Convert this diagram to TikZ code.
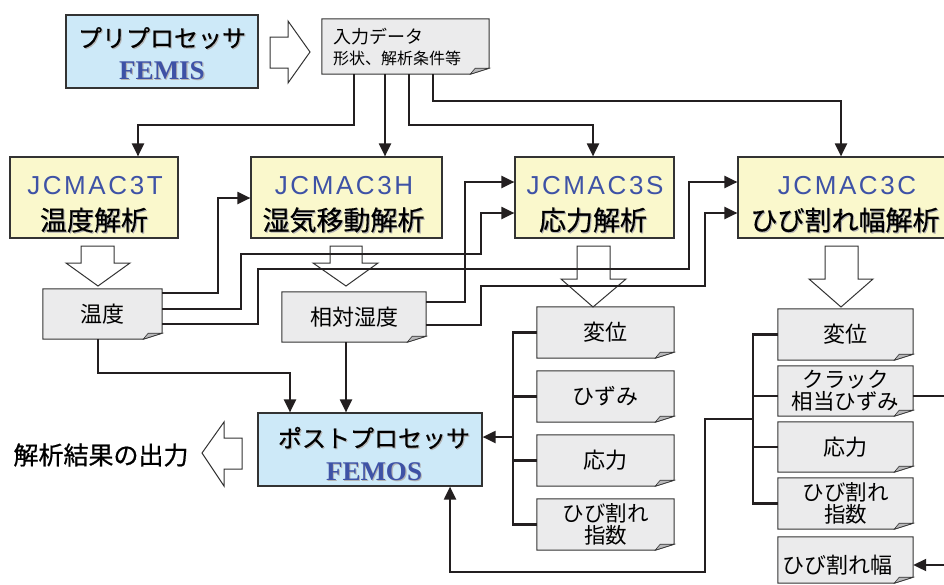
\documentclass[tikz,border=0pt]{standalone}
\usepackage{fontspec}
\newfontfamily\jp{Noto Sans CJK JP}
\newfontfamily\jpt[FakeBold=0.45]{Noto Sans CJK JP}
\newfontfamily\jpo[FakeBold=0.7]{Noto Sans CJK JP}
\newfontfamily\jcm[LetterSpace=10]{Liberation Sans}
\newfontfamily\tms{Liberation Serif}
\usetikzlibrary{arrows.meta}
\definecolor{bluefill}{HTML}{CDE9F8}
\definecolor{yelfill}{HTML}{FAF8CC}
\definecolor{notefill}{HTML}{EBEBEC}
\definecolor{flapfill}{HTML}{B8B8BA}
\definecolor{edge}{HTML}{333333}
\definecolor{ink}{HTML}{231F20}
\definecolor{tblue}{HTML}{3E52A6}
\definecolor{shadowgray}{HTML}{B4B4B4}
\pgfdeclarelayer{bg}
\pgfsetlayers{bg,main}
\newcommand\fsz[1]{\fontsize{#1pt}{#1pt}\selectfont}
\newcommand\drawnote[1]{%
  \begin{pgfonlayer}{bg}
  \draw[noteline] (#1.north west) -- (#1.north east) -- ([yshift=6pt]#1.south east)
     -- ([xshift=-19pt]#1.south east) -- (#1.south west) -- cycle;
  \draw[flapline] ([yshift=6pt]#1.south east) -- ([xshift=-14pt,yshift=6pt]#1.south east)
     -- ([xshift=-19pt]#1.south east) -- cycle;
  \end{pgfonlayer}}
\tikzset{
  mainbox/.style={draw=edge, line width=1.2pt, inner sep=0pt},
  noteline/.style={draw=edge, line width=1pt, fill=notefill},
  flapline/.style={draw=edge, line width=0.6pt, fill=flapfill},
  notenode/.style={inner sep=0pt, font=\jp\fsz{22}, align=center},
  twoline/.style={font=\jp\fontsize{21.5pt}{22pt}\selectfont},
  conn/.style={draw=ink, line width=2.1pt},
  arr/.style={conn, -{Triangle[length=13pt,width=12pt]}},
  hollow/.style={draw=edge, line width=1pt, fill=white, line join=miter},
  jctext/.style={font=\jcm\fsz{26}, text=tblue, inner sep=0pt},
  jptitle/.style={font=\jpt\fsz{27}, inner sep=0pt},
  proctitle/.style={font=\jpt\fsz{24}, inner sep=0pt},
  femtext/.style={font=\tms\bfseries\fsz{27}, text=tblue, inner sep=0pt},
  shad/.style={text=shadowgray, xshift=1.1pt, yshift=-1.1pt},
}
\begin{document}
\begin{tikzpicture}[x=1pt,y=-1pt]
\useasboundingbox (0,0) rectangle (944,584);
\begin{pgfonlayer}{bg}
\fill[white] (0,0) rectangle (944,584);
\end{pgfonlayer}

% ---------- main boxes ----------
\node[mainbox, fill=bluefill, minimum width=192pt, minimum height=73pt] (pre) at (162,51.5) {};
\node[proctitle, shad] (prets) at (162,38) {プリプロセッサ};
\node[proctitle] (pret) at (162,38) {プリプロセッサ};
\node[femtext, shad] (prels) at (162,71) {FEMIS};
\node[femtext] (prel) at (162,71) {FEMIS};

\node[mainbox, fill=yelfill, minimum width=168pt, minimum height=81pt] (T) at (94,197.5) {};
\node[mainbox, fill=yelfill, minimum width=191pt, minimum height=81pt] (H) at (346.5,197.5) {};
\node[mainbox, fill=yelfill, minimum width=159pt, minimum height=81pt] (S) at (594.5,197.5) {};
\node[mainbox, fill=yelfill, minimum width=214pt, minimum height=81pt] (C) at (845,197.5) {};
\node[jctext] (T1) at (95,186) {JCMAC3T};
\node[jptitle, shad] (T2s) at (94,220) {温度解析};
\node[jptitle] (T2) at (94,220) {温度解析};
\node[jctext] (H1) at (344,186) {JCMAC3H};
\node[jptitle, shad] (H2s) at (343.5,220) {湿気移動解析};
\node[jptitle] (H2) at (343.5,220) {湿気移動解析};
\node[jctext] (S1) at (595,186) {JCMAC3S};
\node[jptitle, shad] (S2s) at (593,220) {応力解析};
\node[jptitle] (S2) at (593,220) {応力解析};
\node[jctext] (C1) at (847,186) {JCMAC3C};
\node[jptitle, shad] (C2s) at (845,220) {ひび割れ幅解析};
\node[jptitle] (C2) at (845,220) {ひび割れ幅解析};

\node[mainbox, fill=bluefill, minimum width=224pt, minimum height=73pt] (post) at (370,449.5) {};
\node[proctitle, shad] (postts) at (374,438) {ポストプロセッサ};
\node[proctitle] (postt) at (374,438) {ポストプロセッサ};
\node[femtext, shad] (postls) at (374,472) {FEMOS};
\node[femtext] (postl) at (374,472) {FEMOS};

% ---------- note boxes ----------
\node[notenode, minimum width=167pt, minimum height=55pt] (inp) at (405.5,46.5) {};
\drawnote{inp}
\node[font=\jp\fsz{18}, anchor=west, inner sep=0pt] (inp1) at (333,37) {入力データ};
\node[font=\jp\fsz{16}, anchor=west, inner sep=0pt] (inp2) at (333,58.5) {形状、解析条件等};

\node[notenode, minimum width=119pt, minimum height=50pt] (temp) at (102.5,314) {温度};
\drawnote{temp}
\node[notenode, minimum width=144pt, minimum height=50pt] (rh) at (354,317) {相対湿度};
\drawnote{rh}

\node[notenode, minimum width=137pt, minimum height=51pt] (sd) at (605.5,332.5) {変位};
\node[notenode, minimum width=137pt, minimum height=51pt] (ss) at (605.5,396.5) {ひずみ};
\node[notenode, minimum width=137pt, minimum height=51pt] (sst) at (605.5,460.5) {応力};
\node[notenode, twoline, minimum width=137pt, minimum height=51pt] (sci) at (605.5,524.5) {ひび割れ\\指数};
\drawnote{sd}\drawnote{ss}\drawnote{sst}\drawnote{sci}

\node[notenode, minimum width=135pt, minimum height=51pt] (cd) at (845.5,334.5) {変位};
\node[notenode, twoline, minimum width=135pt, minimum height=50pt] (ccs) at (845.5,391) {クラック\\相当ひずみ};
\node[notenode, minimum width=135pt, minimum height=50pt] (cst) at (845.5,447) {応力};
\node[notenode, twoline, minimum width=135pt, minimum height=51pt] (cci) at (845.5,503.5) {ひび割れ\\指数};
\node[notenode, minimum width=135pt, minimum height=46pt] (ccw) at (845.5,560) {};
\node[font=\jp\fsz{22}, inner sep=0pt] (ccwt) at (837,565) {ひび割れ幅};
\drawnote{cd}\drawnote{ccs}\drawnote{cst}\drawnote{cci}\drawnote{ccw}

\node[font=\jpo\fsz{25}, inner sep=0pt] (out) at (101,455) {解析結果の出力};

% ---------- hollow arrows ----------
\draw[hollow] (270,37) -- (288,37) -- (288,21) -- (310,52) -- (288,83) -- (288,68) -- (270,68) -- cycle;
\draw[hollow] (81,246) -- (114,246) -- (114,263) -- (130,263) -- (98,286) -- (66,263) -- (81,263) -- cycle;
\draw[hollow] (330,246) -- (362,246) -- (362,263) -- (378,263) -- (346,286) -- (313,263) -- (330,263) -- cycle;
\draw[hollow] (577,246) -- (610,246) -- (610,279) -- (626,279) -- (593,307) -- (561,279) -- (577,279) -- cycle;
\draw[hollow] (825,246) -- (858,246) -- (858,279) -- (873,279) -- (841,307) -- (809,279) -- (825,279) -- cycle;
\draw[hollow] (242,438) -- (224,438) -- (224,422) -- (202,453) -- (224,486) -- (224,469) -- (242,469) -- cycle;

% ---------- connectors ----------
\draw[arr] (inp.south -| 354,0) -- (354,125) -- (138,125) -- (T.north -| 138,0);
\draw[arr] (inp.south -| 385,0) -- (H.north -| 385,0);
\draw[arr] (inp.south -| 409,0) -- (409,125) -- (593,125) -- (S.north -| 593,0);
\draw[arr] (inp.south -| 433,0) -- (433,101) -- (841,101) -- (C.north -| 841,0);

\draw[arr] (temp.east |- 0,293) -- (218,293) -- (218,198) -- (H.west |- 0,198);
\draw[arr] (temp.east |- 0,309) -- (241,309) -- (241,254) -- (481,254) -- (481,213) -- (S.west |- 0,213);
\draw[arr] (temp.east |- 0,324) -- (258,324) -- (258,269) -- (689,269) -- (689,182) -- (C.west |- 0,182);
\draw[arr] (rh.east |- 0,302) -- (465,302) -- (465,182) -- (S.west |- 0,182);
\draw[arr] (rh.east |- 0,325) -- (481,325) -- (481,286) -- (705,286) -- (705,213) -- (C.west |- 0,213);

\draw[arr] (temp.south -| 98,0) -- (98,373) -- (290,373) -- (post.north -| 290,0);
\draw[arr] (rh.south -| 346,0) -- (post.north -| 346,0);

\draw[conn] (sd.west) -- (sd.west -| 513,0) -- (sci.west -| 513,0) -- (sci.west);
\draw[conn] (ss.west) -- (ss.west -| 513,0);
\draw[conn] (sst.west) -- (sst.west -| 513,0);
\draw[arr] (513,437) -- (post.east |- 0,437);

\draw[conn] (cd.west) -- (cd.west -| 753,0) -- (cci.west -| 753,0) -- (cci.west);
\draw[conn] (ccs.west |- 0,396) -- (753,396);
\draw[conn] (cst.west) -- (cst.west -| 753,0);
\draw[arr] (753,419) -- (705,419) -- (705,572) -- (450,572) -- (post.south -| 450,0);

\coordinate (rightA) at (952,396);
\coordinate (rightB) at (952,565);
\draw[conn] (ccs.east |- 0,396) -- (rightA);
\draw[arr] (rightB) -- (ccw.east |- 0,565);
\end{tikzpicture}
\end{document}
